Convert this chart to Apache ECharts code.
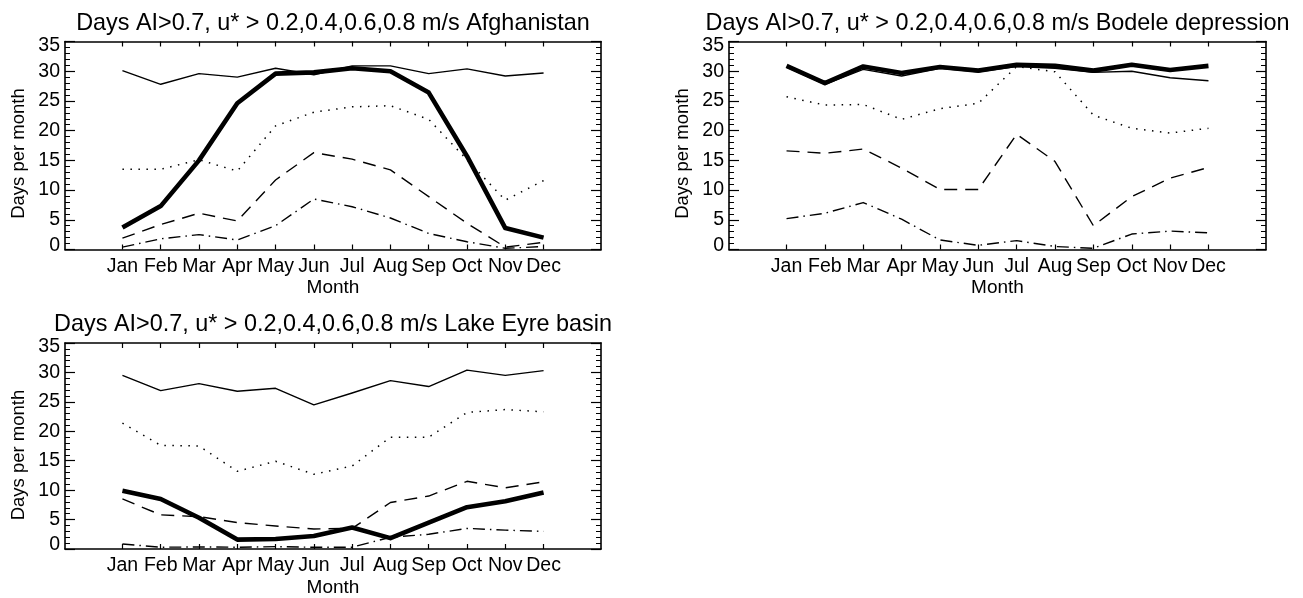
<!DOCTYPE html>
<html>
<head>
<meta charset="utf-8">
<script src="https://cdn.jsdelivr.net/npm/echarts@6/dist/echarts.min.js"></script>
<style>
html,body{margin:0;padding:0;background:#fff;}
#chart{width:1303px;height:598px;}
</style>
</head>
<body>
<div id="chart"></div>
<script>
// ---- data ----
const months = ['Jan','Feb','Mar','Apr','May','Jun','Jul','Aug','Sep','Oct','Nov','Dec'];
const monthIdx = [0,1,2,3,4,5,6,7,8,9,10,11];
const yTicks = [0,5,10,15,20,25,30,35];

const titles = [
  'Days AI>0.7, u* > 0.2,0.4,0.6,0.8 m/s Afghanistan',
  'Days AI>0.7, u* > 0.2,0.4,0.6,0.8 m/s Bodele depression',
  'Days AI>0.7, u* > 0.2,0.4,0.6,0.8 m/s Lake Eyre basin'
];
const xTitle = 'Month';
const yTitle = 'Days per month';

// Afghanistan
const afgU02 = [30.1, 27.8, 29.6, 29.0, 30.5, 29.4, 30.9, 30.9, 29.6, 30.4, 29.2, 29.7];
const afgU04 = [13.5, 13.5, 15.1, 13.2, 20.8, 23.1, 24.0, 24.2, 21.9, 15.1, 8.3, 11.6];
const afgU06 = [1.9, 4.2, 6.1, 4.8, 11.7, 16.3, 15.2, 13.4, 8.9, 4.4, 0.4, 1.2];
const afgU08 = [0.4, 1.8, 2.5, 1.6, 4.0, 8.5, 7.2, 5.3, 2.7, 1.3, 0.2, 0.5];
const afgAll = [3.7, 7.3, 15.0, 24.6, 29.6, 29.8, 30.5, 30.0, 26.4, 15.7, 3.6, 2.0];

// Bodele depression
const bodU02 = [30.7, 27.8, 30.3, 29.2, 30.5, 29.9, 30.8, 30.5, 29.8, 30.0, 28.9, 28.4];
const bodU04 = [25.7, 24.3, 24.4, 21.9, 23.7, 24.6, 30.8, 29.9, 22.6, 20.4, 19.6, 20.4];
const bodU06 = [16.6, 16.2, 16.9, 13.7, 10.1, 10.1, 19.4, 14.8, 4.0, 8.9, 12.0, 13.8];
const bodU08 = [5.2, 6.1, 7.9, 5.1, 1.6, 0.7, 1.5, 0.5, 0.2, 2.6, 3.1, 2.8];
const bodAll = [30.9, 28.0, 30.8, 29.7, 30.7, 30.1, 31.1, 30.9, 30.1, 31.1, 30.2, 30.9];

// Lake Eyre basin
const lakU02 = [29.5, 26.9, 28.1, 26.8, 27.3, 24.5, 26.5, 28.6, 27.6, 30.4, 29.5, 30.3];
const lakU04 = [21.4, 17.6, 17.5, 13.2, 14.9, 12.7, 14.1, 19.0, 19.0, 23.2, 23.7, 23.3];
const lakU06 = [8.5, 5.8, 5.5, 4.5, 3.9, 3.4, 3.5, 7.9, 9.0, 11.5, 10.4, 11.4];
const lakU08 = [0.85, 0.3, 0.35, 0.3, 0.4, 0.3, 0.3, 2.0, 2.5, 3.5, 3.2, 3.0];
const lakAll = [9.9, 8.5, 5.3, 1.6, 1.7, 2.2, 3.65, 1.85, 4.5, 7.1, 8.1, 9.6];

// ---- chart ----
const FONT = '"Liberation Sans", Arial, Helvetica, sans-serif';
const panels = [
  {grid:{left:65, right:702, top:41.5, bottom:348.5}, title:titles[0], data:[afgU02, afgU04, afgU06, afgU08, afgAll]},
  {grid:{left:729, right:37, top:41.5, bottom:348.5}, title:titles[1], data:[bodU02, bodU04, bodU06, bodU08, bodAll]},
  {grid:{left:65, right:702, top:343, bottom:47}, title:titles[2], data:[lakU02, lakU04, lakU06, lakU08, lakAll]}
];
const seriesNames = ['u* > 0.2','u* > 0.4','u* > 0.6','u* > 0.8','AI > 0.7'];
const lineStyles = [
  {width:1.4, type:'solid'},
  {width:1.5, type:[1.5, 6.5]},
  {width:1.4, type:[13, 8]},
  {width:1.4, type:[12, 5, 1.5, 5]},
  {width:4.6, type:'solid'}
];

const grids = [], xAxes = [], yAxes = [], series = [], graphics = [];
const axisLineStyle = {color:'#000', width:1.6};
panels.forEach((p, gi) => {
  grids.push(Object.assign({containLabel:false}, p.grid));
  // bottom x axis
  xAxes.push({
    type:'value', gridIndex:gi, position:'bottom', min:-1.5, max:12.5,
    name:xTitle, nameLocation:'middle', nameGap:29,
    nameTextStyle:{color:'#000', fontSize:19, fontFamily:FONT},
    axisLine:{show:true, onZero:false, lineStyle:axisLineStyle},
    axisTick:{show:true, inside:true, length:5, customValues:monthIdx, lineStyle:{color:'#000', width:1.2}},
    axisLabel:{show:true, customValues:monthIdx, margin:7, color:'#000', fontSize:19.5, fontFamily:FONT,
      formatter:(v) => months[Math.round(v)] || ''},
    splitLine:{show:false}
  });
  // top mirror x axis
  xAxes.push({
    type:'value', gridIndex:gi, position:'top', min:-1.5, max:12.5,
    axisLine:{show:true, onZero:false, lineStyle:axisLineStyle},
    axisTick:{show:true, inside:true, length:5, customValues:monthIdx, lineStyle:{color:'#000', width:1.2}},
    axisLabel:{show:false}, splitLine:{show:false}
  });
  // left y axis
  yAxes.push({
    type:'value', gridIndex:gi, position:'left', min:0, max:35, interval:5,
    axisLine:{show:true, onZero:false, lineStyle:axisLineStyle},
    axisTick:{show:true, inside:true, length:10, lineStyle:{color:'#000', width:1.2}},
    minorTick:{show:true, splitNumber:5, length:5, lineStyle:{color:'#000', width:1}},
    axisLabel:{show:true, margin:5, color:'#000', fontSize:19.5, fontFamily:FONT,
      customValues:yTicks,
      formatter:(v) => v === 35 ? '{hi|35}' : (v === 0 ? '{lo|0}' : String(v)),
      rich:{
        hi:{fontSize:19.5, fontFamily:FONT, color:'#000', padding:[8,0,0,0]},
        lo:{fontSize:19.5, fontFamily:FONT, color:'#000', padding:[0,0,8,0]}
      }},
    splitLine:{show:false}, minorSplitLine:{show:false}
  });
  // right mirror y axis
  yAxes.push({
    type:'value', gridIndex:gi, position:'right', min:0, max:35, interval:5,
    axisLine:{show:true, onZero:false, lineStyle:axisLineStyle},
    axisTick:{show:true, inside:true, length:10, lineStyle:{color:'#000', width:1.2}},
    minorTick:{show:true, splitNumber:5, length:5, lineStyle:{color:'#000', width:1}},
    axisLabel:{show:false}, splitLine:{show:false}, minorSplitLine:{show:false}
  });
  p.data.forEach((arr, si) => {
    series.push({
      type:'line', name:seriesNames[si], xAxisIndex:gi*2, yAxisIndex:gi*2,
      data: monthIdx.map((m, i) => [m, arr[i]]),
      showSymbol:false, symbol:'none', silent:true, animation:false,
      lineStyle:Object.assign({color:'#000', join:'round'}, lineStyles[si]),
      z: si === 4 ? 3 : 2
    });
  });
  const top = p.grid.top, bottom = 598 - p.grid.bottom;
  const cx = p.grid.left + (1303 - p.grid.left - p.grid.right) / 2;
  graphics.push({
    type:'text', x:cx, y:top - 18, silent:true,
    style:{text:p.title, fill:'#000', font:'23.4px ' + FONT, align:'center', verticalAlign:'middle'}
  });
  graphics.push({
    type:'text', x:p.grid.left - 46, y:(top + bottom) / 2 + 8, rotation:Math.PI / 2, silent:true,
    style:{text:yTitle, fill:'#000', font:'18.5px ' + FONT, align:'center', verticalAlign:'middle'}
  });
});

const chart = echarts.init(document.getElementById('chart'), null, {renderer:'canvas'});
chart.setOption({
  animation:false,
  backgroundColor:'#fff',
  grid:grids, xAxis:xAxes, yAxis:yAxes, series:series,
  graphic:graphics
});
</script>
</body>
</html>
